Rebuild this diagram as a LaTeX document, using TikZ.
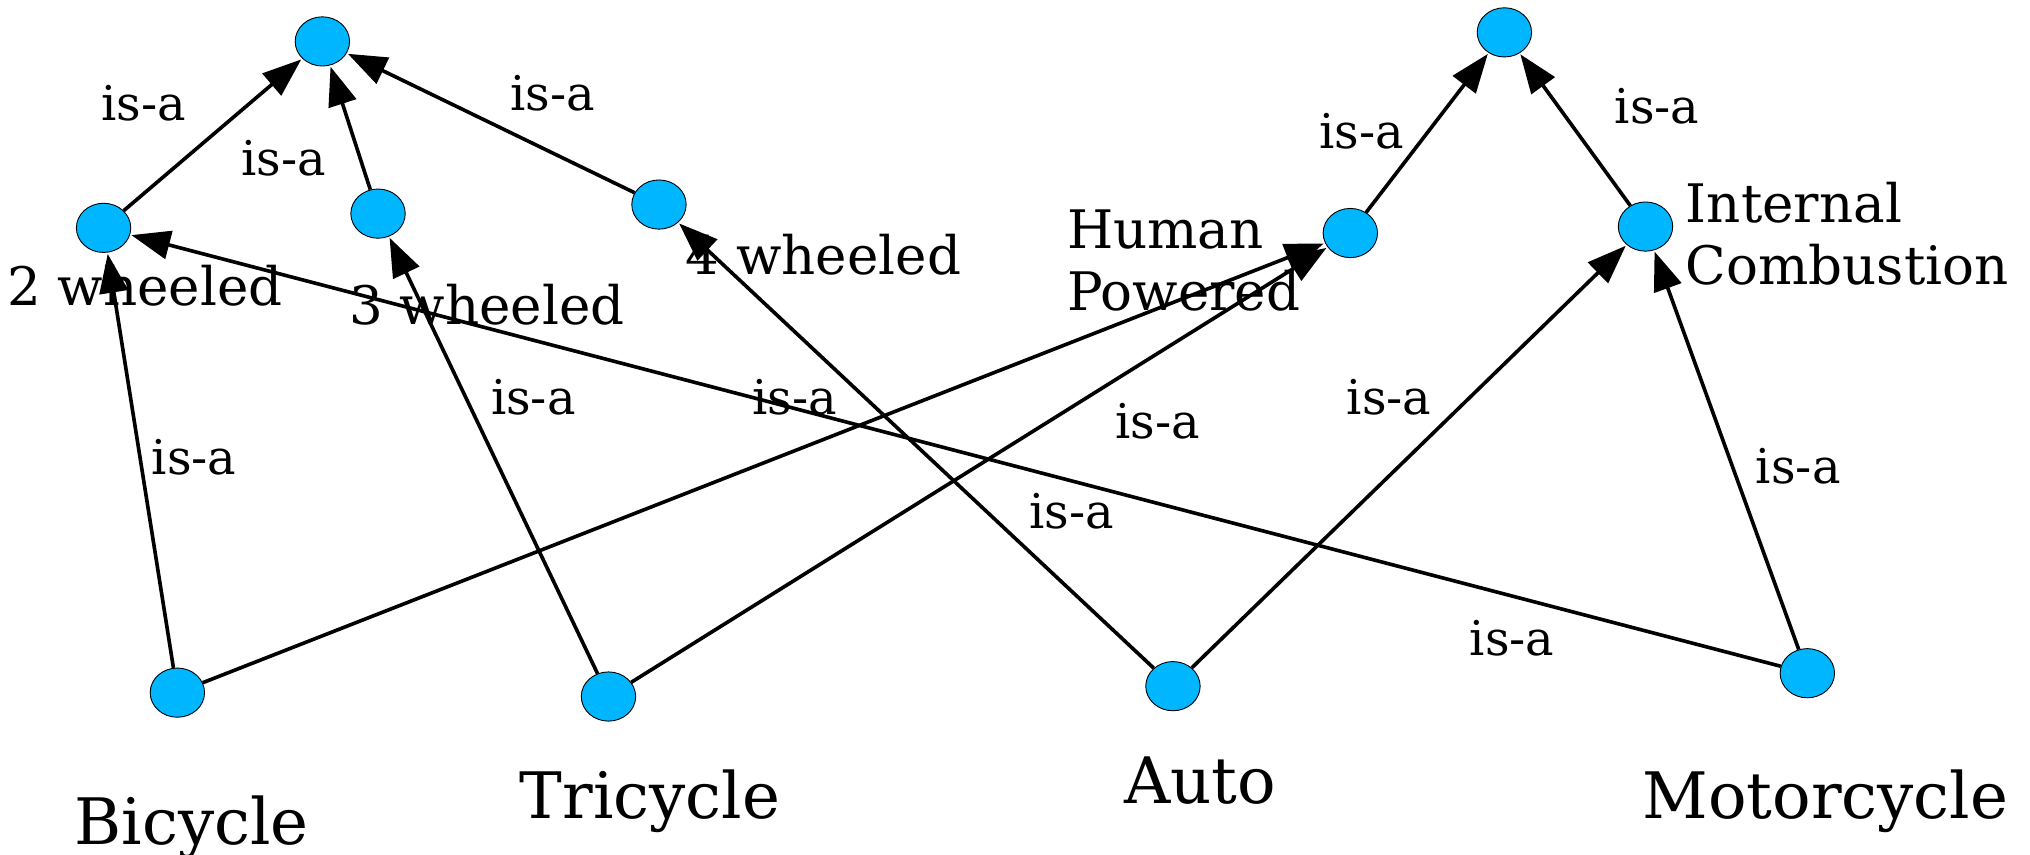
\documentclass[tikz,border=0pt]{standalone}
\usepackage{fontspec}
\setmainfont{DejaVu Serif}
\usetikzlibrary{shapes.geometric,arrows.meta}
\definecolor{nodeblue}{RGB}{0,183,255}
\begin{document}
\begin{tikzpicture}[x=1pt,y=-1pt,
  dot/.style={ellipse,draw=black,line width=0.7pt,fill=nodeblue,minimum width=42pt,minimum height=38pt,inner sep=0pt},
  isa/.style={line width=2.8pt,-{Triangle[length=30pt,width=22pt]},shorten >=1pt},
  isalabel/.style={font=\fontsize{37}{43}\selectfont,inner sep=0pt},
  sidelabel/.style={font=\fontsize{41}{48}\selectfont,inner sep=0pt},
  baselabel/.style={font=\fontsize{49.5}{58}\selectfont,inner sep=0pt}]
\useasboundingbox (0,0) rectangle (1568,660);

% nodes
\node[dot] (t1) at (249,32) {};
\node[dot] (n2) at (80,176) {};
\node[dot] (n3) at (292,165) {};
\node[dot] (n4) at (509,158) {};
\node[dot] (t2) at (1162,25) {};
\node[dot] (hp) at (1043,180) {};
\node[dot] (ic) at (1271,175) {};
\node[dot] (bic) at (137,535) {};
\node[dot] (tri) at (470,538) {};
\node[dot] (aut) at (906,530) {};
\node[dot] (mot) at (1396,520) {};

% edges
\draw[isa] (n2) -- (t1);
\draw[isa] (n3) -- (t1);
\draw[isa] (n4) -- (t1);
\draw[isa] (hp) -- (t2);
\draw[isa] (ic) -- (t2);
\draw[isa] (bic) -- (n2);
\draw[isa] (bic) -- (hp);
\draw[isa] (tri) -- (n3);
\draw[isa] (tri) -- (hp);
\draw[isa] (aut) -- (n4);
\draw[isa] (aut) -- (ic);
\draw[isa] (mot) -- (ic);
\draw[isa] (mot) -- (n2);

% edge labels
\node[isalabel] (l1) at (111,80) {is-a};
\node[isalabel] (l2) at (219,122) {is-a};
\node[isalabel] (l3) at (427,72) {is-a};
\node[isalabel] (l4) at (1052,101) {is-a};
\node[isalabel] (l5) at (1280,82) {is-a};
\node[isalabel] (l6) at (150,353) {is-a};
\node[isalabel] (l7) at (412,307) {is-a};
\node[isalabel] (l8) at (614,307) {is-a};
\node[isalabel] (l9) at (894,325) {is-a};
\node[isalabel] (l10) at (828,395) {is-a};
\node[isalabel] (l11) at (1073,307) {is-a};
\node[isalabel] (l12) at (1389,360) {is-a};
\node[isalabel] (l13) at (1168,493) {is-a};

% node labels
\node[sidelabel,anchor=base] (txt2) at (112,236) {2 wheeled};
\node[sidelabel,anchor=base] (txt3) at (376,251) {3 wheeled};
\node[sidelabel,anchor=base] (txt4) at (636,212) {4 wheeled};
\node[sidelabel,anchor=base west,align=left] (txthp) at (824,240) {Human\\Powered};
\node[sidelabel,anchor=base west,align=left] (txtic) at (1302,220) {Internal\\Combustion};
\node[baselabel,anchor=base] (txtbic) at (148,652) {Bicycle};
\node[baselabel,anchor=base] (txttri) at (502,632) {Tricycle};
\node[baselabel,anchor=base] (txtaut) at (927,621) {Auto};
\node[baselabel,anchor=base] (txtmot) at (1410,632) {Motorcycle};
\end{tikzpicture}
\end{document}
